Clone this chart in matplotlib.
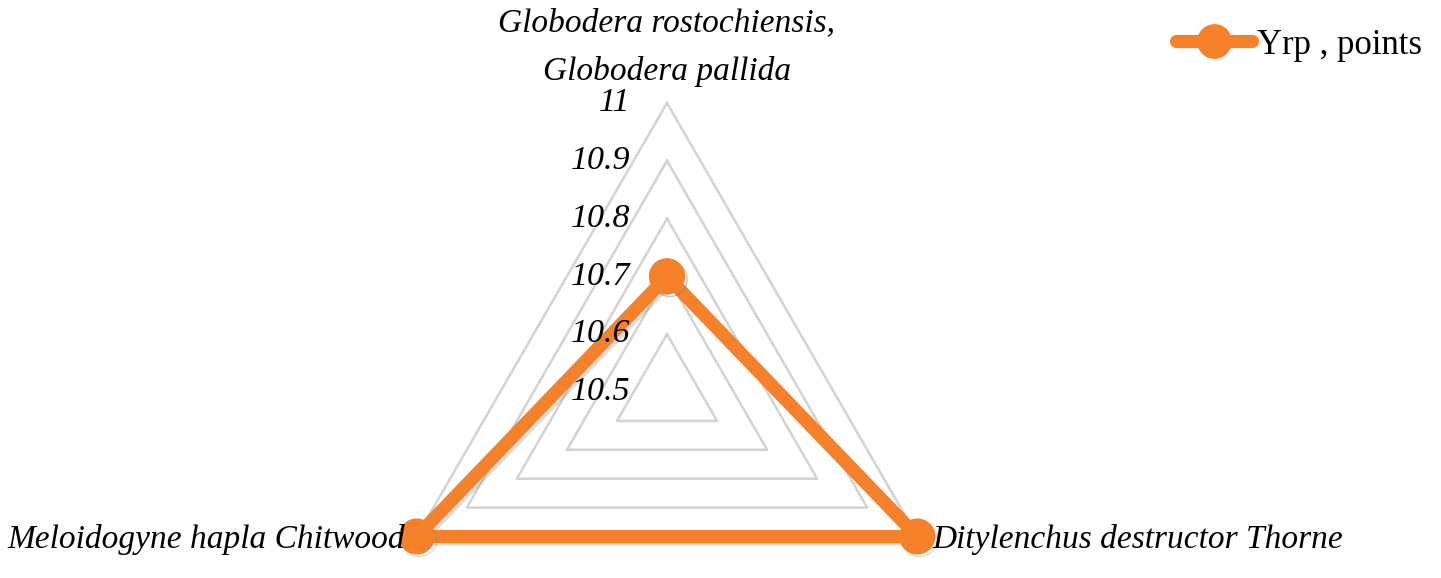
import numpy as np
import matplotlib
matplotlib.use("Agg")
import matplotlib.pyplot as plt
import matplotlib.patheffects as pe
from matplotlib.lines import Line2D

categories = ["Globodera rostochiensis,\nGlobodera pallida",
              "Ditylenchus destructor Thorne",
              "Meloidogyne hapla Chitwood"]
values = [10.7, 11.0, 11.0]
series_name = "Yrp , points"
r_ticks = [10.5, 10.6, 10.7, 10.8, 10.9, 11.0]
r_tick_labels = ["10.5", "10.6", "10.7", "10.8", "10.9", "11"]

ORANGE = "#F5822A"
GRID = "#D3D3D3"
SERIF = ["Liberation Serif", "DejaVu Serif"]

W, H = 1441, 578
fig = plt.figure(figsize=(W / 100, H / 100), dpi=100)
cx, cy, R = 667, 392, 289
ax = fig.add_axes([(cx - R) / W, 1 - (cy + R) / H, 2 * R / W, 2 * R / H],
                  projection="polar")
ax.set_theta_offset(np.pi / 2)
ax.set_theta_direction(-1)
ax.set_ylim(r_ticks[0], r_ticks[-1])
ax.grid(False)
ax.spines["polar"].set_visible(False)
ax.set_xticks([])
ax.set_yticks([])
ax.patch.set_visible(False)

n = len(categories)
theta = np.arange(n) * 2 * np.pi / n
theta_closed = np.append(theta, theta[0])

# grid triangles
for r in r_ticks[1:]:
    ax.plot(theta_closed, [r] * (n + 1), color=GRID, lw=1.8, clip_on=False, zorder=1)

# tick labels
for r, lab in zip(r_ticks, r_tick_labels):
    ax.annotate(lab, xy=(0, r), xytext=(-37, 0), textcoords="offset pixels",
                ha="right", va="center", fontsize=24.5, fontstyle="italic",
                family=SERIF, annotation_clip=False, zorder=5)

# data
vals_closed = values + [values[0]]
ax.plot(theta_closed, vals_closed, color=ORANGE, lw=9.5, marker="o", ms=25,
        solid_joinstyle="round", clip_on=False, zorder=3,
        path_effects=[pe.SimpleLineShadow(offset=(2, -2), alpha=0.25, shadow_color="gray"),
                      pe.Normal()])

# category labels
ax.annotate(categories[0], xy=(theta[0], r_ticks[-1]), xytext=(0, 16),
            textcoords="offset pixels", ha="center", va="bottom",
            fontsize=24, fontstyle="italic", family=SERIF, linespacing=1.75,
            annotation_clip=False)
ax.annotate(categories[1], xy=(theta[1], r_ticks[-1]), xytext=(15, -3),
            textcoords="offset pixels", ha="left", va="center",
            fontsize=24, fontstyle="italic", family=SERIF, annotation_clip=False)
ax.annotate(categories[2], xy=(theta[2], r_ticks[-1]), xytext=(-12, -3),
            textcoords="offset pixels", ha="right", va="center",
            fontsize=24, fontstyle="italic", family=SERIF, annotation_clip=False)

handle = Line2D([], [], color=ORANGE, lw=9.5, marker="o", ms=24,
                solid_capstyle="round")
fig.legend([handle], [series_name], loc="center left",
           bbox_to_anchor=(1176 / W, 1 - 45 / H), frameon=False,
           prop={"family": SERIF, "size": 25}, handlelength=2.2,
           handletextpad=0.12, borderaxespad=0, borderpad=0)

fig.savefig("out.png", dpi=100)
